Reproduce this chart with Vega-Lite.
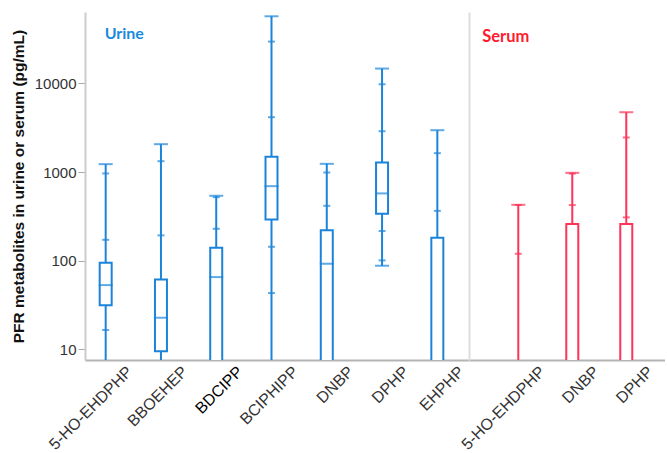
{
  "$schema": "https://vega.github.io/schema/vega-lite/v6.json",
  "padding": {"left": 11, "top": 12, "right": 0, "bottom": 0},
  "background": "white",
  "spacing": 0,
  "bounds": "flush",
  "config": {
    "view": {"stroke": null},
    "font": "Liberation Sans",
    "axisX": {"title": null, "labelAngle": -45, "labelFont": "Liberation Sans", "labelFontSize": 16, "labelColor": "#333333", "ticks": false, "domainColor": "#b4b4b4", "domainWidth": 2, "labelPadding": 3, "labelOffset": 18, "grid": false},
    "axisY": {"grid": false, "labelFont": "Liberation Sans", "titleFont": "Liberation Sans"}
  },
  "datasets": {
    "boxes": [
      {"matrix": "Urine", "compound": "5-HO-EHDPHP", "min": 1, "p5": 5, "p10": 16.5, "q1": 31.3, "median": 53, "q3": 94.7, "p90": 172, "p95": 964, "max": 1228},
      {"matrix": "Urine", "compound": "BBOEHEP", "min": 1, "p5": 3, "p10": 5, "q1": 9.5, "median": 22.7, "q3": 61.5, "p90": 193, "p95": 1327, "max": 2064},
      {"matrix": "Urine", "compound": "BDCIPP", "min": 1, "p5": 2, "p10": 3, "q1": 5, "median": 65.3, "q3": 140, "p90": 229, "p95": 520, "max": 540},
      {"matrix": "Urine", "compound": "BCIPHIPP", "min": 1, "p5": 43.1, "p10": 143.5, "q1": 292, "median": 693, "q3": 1484, "p90": 4159, "p95": 29670, "max": 57260},
      {"matrix": "Urine", "compound": "DNBP", "min": 1, "p5": 2, "p10": 3, "q1": 5, "median": 92.3, "q3": 221, "p90": 416, "p95": 989, "max": 1238},
      {"matrix": "Urine", "compound": "DPHP", "min": 87.7, "p5": 100.8, "p10": 216, "q1": 338, "median": 574, "q3": 1283, "p90": 2891, "p95": 9795, "max": 14720},
      {"matrix": "Urine", "compound": "EHPHP", "min": 1, "p5": 2, "p10": 3, "q1": 4, "median": 5, "q3": 181, "p90": 365, "p95": 1634, "max": 2967},
      {"matrix": "Serum", "compound": "5-HO-EHDPHP", "min": 1, "p5": 2, "p10": 3, "q1": 4, "median": 5, "q3": 6, "p90": 119.6, "p95": 425, "max": 427},
      {"matrix": "Serum", "compound": "DNBP", "min": 1, "p5": 2, "p10": 3, "q1": 4, "median": 5, "q3": 259, "p90": 424, "p95": 960, "max": 980},
      {"matrix": "Serum", "compound": "DPHP", "min": 1, "p5": 2, "p10": 3, "q1": 4, "median": 5, "q3": 259, "p90": 308, "p95": 2455, "max": 4735}
    ],
    "labels": [
      {"matrix": "Urine", "compound": "5-HO-EHDPHP", "label": "Urine", "v": 35900},
      {"matrix": "Serum", "compound": "5-HO-EHDPHP", "label": "Serum", "v": 33400}
    ]
  },
  "hconcat": [
    {
      "width": 384,
      "height": 348,
      "data": {"name": "boxes"},
      "transform": [{"filter": "datum.matrix === 'Urine'"}],
      "encoding": {
        "x": {"field": "compound", "type": "nominal", "sort": ["5-HO-EHDPHP", "BBOEHEP", "BDCIPP", "BCIPHIPP", "DNBP", "DPHP", "EHPHP"],
          "scale": {"type": "point", "padding": 0.4735, "align": 0.395},
          "axis": {"labelColor": {"condition": {"test": "datum.value === 'BDCIPP'", "value": "#000000"}, "value": "#333333"}}}
      },
      "layer": [
        {
          "mark": {"type": "rule", "color": "#1b84da", "strokeWidth": 2, "clip": true},
          "encoding": {
            "y": {"field": "min", "type": "quantitative", "scale": {"type": "log", "domain": [7.57, 64000], "nice": false},
              "axis": {"title": "PFR metabolites in urine or serum (pg/mL)", "titleFontSize": 15.5, "titleFontWeight": "bold", "titleColor": "#111111", "titlePadding": 8,
                "values": [10, 100, 1000, 10000], "format": "d", "labelFontSize": 15, "labelColor": "#333333", "tickSize": 7, "tickColor": "#aaaaaa", "labelPadding": 2, "domainColor": "#cccccc", "domainWidth": 2}},
            "y2": {"field": "max"}
          }
        },
        {
          "mark": {"type": "bar", "size": 12, "fill": "white", "stroke": "#1b84da", "strokeWidth": 2, "clip": true},
          "encoding": {"y": {"field": "q1", "type": "quantitative"}, "y2": {"field": "q3"}}
        },
        {
          "mark": {"type": "tick", "color": "#1b84da", "size": 14, "thickness": 2, "clip": true},
          "encoding": {"y": {"field": "median", "type": "quantitative"}}
        },
        {
          "transform": [{"fold": ["p5", "p10", "p90", "p95"], "as": ["pct", "value"]}],
          "mark": {"type": "tick", "color": "#1b84da", "size": 7, "thickness": 2, "clip": true},
          "encoding": {"y": {"field": "value", "type": "quantitative"}}
        },
        {
          "transform": [{"fold": ["min", "max"], "as": ["ext", "value"]}],
          "mark": {"type": "tick", "color": "#1b84da", "size": 14, "thickness": 2, "clip": true},
          "encoding": {"y": {"field": "value", "type": "quantitative"}}
        },
        {
          "data": {"name": "labels"},
          "transform": [{"filter": "datum.matrix === 'Urine'"}],
          "mark": {"type": "text", "align": "left", "baseline": "middle", "font": "Lato", "fontWeight": "bold", "fontSize": 16, "color": "#1a8ae0", "dx": -1},
          "encoding": {"y": {"field": "v", "type": "quantitative"}, "text": {"field": "label"}}
        }
      ]
    },
    {
      "width": 196,
      "height": 348,
      "data": {"name": "boxes"},
      "transform": [{"filter": "datum.matrix === 'Serum'"}],
      "encoding": {
        "x": {"field": "compound", "type": "nominal", "sort": ["5-HO-EHDPHP", "DNBP", "DPHP"],
          "scale": {"type": "point", "padding": 0.815, "align": 0.56}}
      },
      "layer": [
        {
          "mark": {"type": "rule", "color": "#ff3358", "strokeWidth": 2, "clip": true},
          "encoding": {
            "y": {"field": "min", "type": "quantitative", "scale": {"type": "log", "domain": [7.57, 64000], "nice": false},
              "axis": {"title": null, "labels": false, "ticks": false, "minExtent": 0, "domainColor": "#dddddd", "domainWidth": 2}},
            "y2": {"field": "max"}
          }
        },
        {
          "mark": {"type": "bar", "size": 12, "fill": "white", "stroke": "#ff3358", "strokeWidth": 2, "clip": true},
          "encoding": {"y": {"field": "q1", "type": "quantitative"}, "y2": {"field": "q3"}}
        },
        {
          "mark": {"type": "tick", "color": "#ff3358", "size": 14, "thickness": 2, "clip": true},
          "encoding": {"y": {"field": "median", "type": "quantitative"}}
        },
        {
          "transform": [{"fold": ["p5", "p10", "p90", "p95"], "as": ["pct", "value"]}],
          "mark": {"type": "tick", "color": "#ff3358", "size": 7, "thickness": 2, "clip": true},
          "encoding": {"y": {"field": "value", "type": "quantitative"}}
        },
        {
          "transform": [{"fold": ["min", "max"], "as": ["ext", "value"]}],
          "mark": {"type": "tick", "color": "#ff3358", "size": 14, "thickness": 2, "clip": true},
          "encoding": {"y": {"field": "value", "type": "quantitative"}}
        },
        {
          "data": {"name": "labels"},
          "transform": [{"filter": "datum.matrix === 'Serum'"}],
          "mark": {"type": "text", "align": "left", "baseline": "middle", "font": "Lato", "fontWeight": "bold", "fontSize": 16.5, "color": "#ff1a2e", "dx": -36},
          "encoding": {"y": {"field": "v", "type": "quantitative"}, "text": {"field": "label"}}
        }
      ]
    }
  ]
}
